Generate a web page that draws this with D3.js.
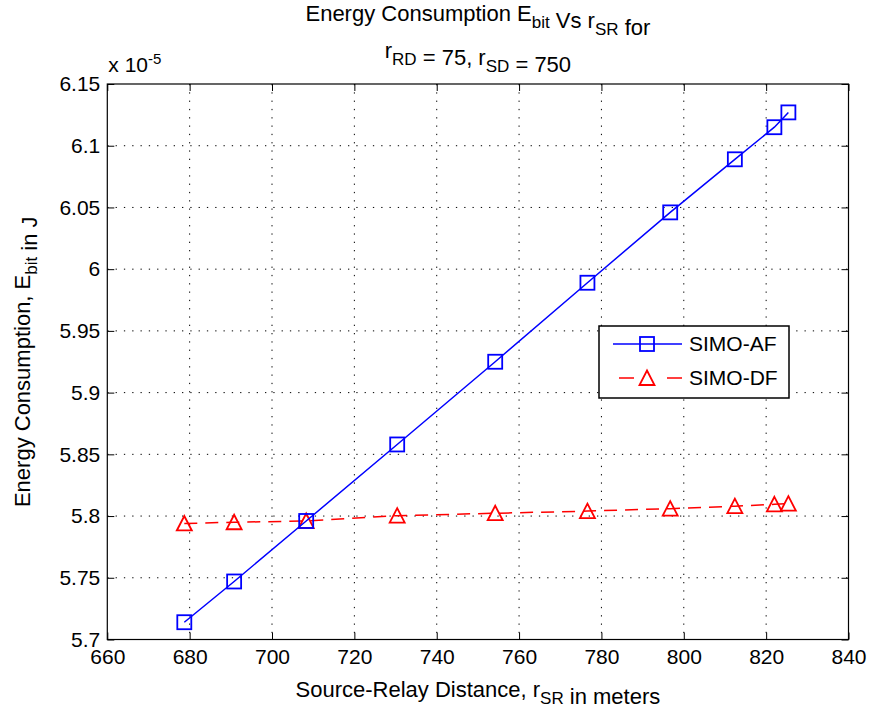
<!DOCTYPE html>
<html>
<head>
<meta charset="utf-8">
<script src="https://cdn.jsdelivr.net/npm/d3@7"></script>
<style>
  body { margin: 0; background: #fff; }
  text { font-family: "Liberation Sans", Arial, sans-serif; fill: #000; }
</style>
</head>
<body>
<div id="chart"></div>
<script>
// Data
const rSR = [678.7, 690.8, 708.3, 730.4, 754.2, 776.6, 796.7, 812.4, 822.0, 825.4];
const ebitAF = [5.714, 5.747, 5.796, 5.858, 5.925, 5.989, 6.046, 6.089, 6.115, 6.127];
const ebitDF = [5.794, 5.795, 5.796, 5.8003, 5.8023, 5.804, 5.806, 5.808, 5.8095, 5.810];
const xTicks = [660, 680, 700, 720, 740, 760, 780, 800, 820, 840];
const yTicks = [5.7, 5.75, 5.8, 5.85, 5.9, 5.95, 6, 6.05, 6.1, 6.15];
const seriesNames = ["SIMO-AF", "SIMO-DF"];

const W = 873, H = 713;
const margin = { top: 84, right: 24.5, bottom: 73.5, left: 107.3 };
const width = W - margin.left - margin.right;
const height = H - margin.top - margin.bottom;
const tickFont = 21;   // tick labels, legend
const labelFont = 22;  // title, axis labels
const subFont = 17;

const svg = d3.select("#chart")
    .append("svg")
    .attr("width", W)
    .attr("height", H);

svg.append("rect").attr("width", W).attr("height", H).attr("fill", "#fff");

const g = svg.append("g")
    .attr("transform", `translate(${margin.left},${margin.top})`);

const x = d3.scaleLinear().domain([660, 840]).range([0, width]);
const y = d3.scaleLinear().domain([5.7, 6.15]).range([height, 0]);

// dotted grid
g.append("g")
    .selectAll("line")
    .data(xTicks.slice(1, -1))
    .enter().append("line")
    .attr("x1", d => x(d)).attr("x2", d => x(d))
    .attr("y1", 0).attr("y2", height)
    .attr("stroke", "#000")
    .attr("stroke-width", 1)
    .attr("stroke-dasharray", "1.3,7");

g.append("g")
    .selectAll("line")
    .data(yTicks.slice(1, -1))
    .enter().append("line")
    .attr("y1", d => y(d)).attr("y2", d => y(d))
    .attr("x1", 0).attr("x2", width)
    .attr("stroke", "#000")
    .attr("stroke-width", 1)
    .attr("stroke-dasharray", "1.3,7");

// axes with inward ticks
const fmtY = d => String(+d.toFixed(2));

g.append("g")
    .attr("transform", `translate(0,${height})`)
    .call(d3.axisBottom(x).tickValues(xTicks).tickSize(-7).tickPadding(10).tickFormat(d3.format("d")));

g.append("g")
    .call(d3.axisLeft(y).tickValues(yTicks).tickSize(-7).tickPadding(7).tickFormat(fmtY));

g.append("g")
    .call(d3.axisTop(x).tickValues(xTicks).tickSize(-7).tickFormat(""));

g.append("g")
    .attr("transform", `translate(${width},0)`)
    .call(d3.axisRight(y).tickValues(yTicks).tickSize(-7).tickFormat(""));

g.selectAll(".domain").remove();
g.selectAll(".tick line").attr("stroke", "#000");
g.selectAll(".tick text")
    .style("font-family", '"Liberation Sans", Arial, sans-serif')
    .style("font-size", tickFont + "px")
    .attr("fill", "#000");

g.append("rect")
    .attr("width", width).attr("height", height)
    .attr("fill", "none")
    .attr("stroke", "#000")
    .attr("stroke-width", 1.2);

// exponent label
const expo = svg.append("text")
    .attr("x", margin.left + 1)
    .attr("y", 72)
    .style("font-size", tickFont + "px");
expo.append("tspan").text("x 10");
expo.append("tspan").attr("dy", -8).style("font-size", "15px").text("-5");

// series
const ptsAF = rSR.map((r, i) => [r, ebitAF[i]]);
const ptsDF = rSR.map((r, i) => [r, ebitDF[i]]);

const line = d3.line().x(d => x(d[0])).y(d => y(d[1]));

g.append("path")
    .datum(ptsDF)
    .attr("fill", "none")
    .attr("stroke", "#ff0000")
    .attr("stroke-width", 1.5)
    .attr("stroke-dasharray", "13,8")
    .attr("d", line);

g.selectAll(".tri")
    .data(ptsDF)
    .enter().append("path")
    .attr("class", "tri")
    .attr("transform", d => `translate(${x(d[0])},${y(d[1])})`)
    .attr("d", "M0,-7.5L7.5,7L-7.5,7Z")
    .attr("fill", "none")
    .attr("stroke", "#ff0000")
    .attr("stroke-width", 1.8);

g.append("path")
    .datum(ptsAF)
    .attr("fill", "none")
    .attr("stroke", "#0000ff")
    .attr("stroke-width", 1.5)
    .attr("d", line);

g.selectAll(".sq")
    .data(ptsAF)
    .enter().append("rect")
    .attr("class", "sq")
    .attr("x", d => x(d[0]) - 7)
    .attr("y", d => y(d[1]) - 7)
    .attr("width", 14).attr("height", 14)
    .attr("fill", "none")
    .attr("stroke", "#0000ff")
    .attr("stroke-width", 1.8);

// legend
const leg = svg.append("g").attr("transform", "translate(599,326)");
leg.append("rect")
    .attr("width", 190).attr("height", 72)
    .attr("fill", "#fff")
    .attr("stroke", "#000")
    .attr("stroke-width", 1.5);

leg.append("line")
    .attr("x1", 14).attr("x2", 83).attr("y1", 18).attr("y2", 18)
    .attr("stroke", "#0000ff").attr("stroke-width", 1.5);
leg.append("rect")
    .attr("x", 41).attr("y", 11).attr("width", 14).attr("height", 14)
    .attr("fill", "none").attr("stroke", "#0000ff").attr("stroke-width", 1.8);

leg.append("line")
    .attr("x1", 20).attr("x2", 83).attr("y1", 52).attr("y2", 52)
    .attr("stroke", "#ff0000").attr("stroke-width", 1.5)
    .attr("stroke-dasharray", "15,33,15");
leg.append("path")
    .attr("transform", "translate(48,52)")
    .attr("d", "M0,-7.5L7.5,7L-7.5,7Z")
    .attr("fill", "none").attr("stroke", "#ff0000").attr("stroke-width", 1.8);

leg.selectAll(".lt")
    .data(seriesNames)
    .enter().append("text")
    .attr("class", "lt")
    .attr("x", 90)
    .attr("y", (d, i) => 25 + i * 34)
    .style("font-size", tickFont + "px")
    .text(d => d);

// title
function withSubs(sel, parts) {
    parts.forEach(([txt, sub]) => {
        sel.append("tspan").text(txt);
        if (sub) {
            sel.append("tspan").attr("dy", 7).style("font-size", subFont + "px").text(sub);
            sel.append("tspan").attr("dy", -7).text("");
        }
    });
}

const t1 = svg.append("text")
    .attr("x", margin.left + width / 2)
    .attr("y", 21)
    .attr("text-anchor", "middle")
    .style("font-size", labelFont + "px");
withSubs(t1, [["Energy Consumption E", "bit"], [" Vs r", "SR"], [" for", null]]);

const t2 = svg.append("text")
    .attr("x", margin.left + width / 2)
    .attr("y", 58)
    .attr("text-anchor", "middle")
    .style("font-size", labelFont + "px");
withSubs(t2, [["r", "RD"], [" = 75, r", "SD"], [" = 750", null]]);

// axis labels
const xl = svg.append("text")
    .attr("x", margin.left + width / 2)
    .attr("y", 697)
    .attr("text-anchor", "middle")
    .style("font-size", labelFont + "px");
withSubs(xl, [["Source-Relay Distance, r", "SR"], [" in meters", null]]);

const yl = svg.append("text")
    .attr("transform", `translate(30,${margin.top + height / 2}) rotate(-90)`)
    .attr("text-anchor", "middle")
    .style("font-size", labelFont + "px");
withSubs(yl, [["Energy Consumption, E", "bit"], [" in J", null]]);
</script>
</body>
</html>
